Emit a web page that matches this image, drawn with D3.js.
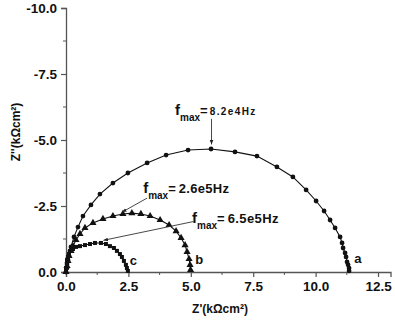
<!DOCTYPE html>
<html><head><meta charset="utf-8">
<script src="https://cdn.jsdelivr.net/npm/d3@7"></script>
<style>body{margin:0;background:#fff}svg{display:block}text{font-family:"Liberation Sans",Arial,sans-serif;font-weight:bold}</style>
</head><body><svg id="c" width="395" height="320"></svg>
<script>
// Series a (circles)
const aX=[0,0.04,0.04,0.08,0.12,0.16,0.20,0.32,0.48,0.68,1.00,1.36,1.88,2.48,3.25,4.01,4.89,5.81,6.77,7.65,8.45,9.09,9.62,10.02,10.34,10.58,10.78,10.98,11.06,11.10,11.18,11.22,11.26,11.30,11.34,11.34];
const aY=[0,-0.15,-0.30,-0.45,-0.61,-0.80,-0.95,-1.33,-1.70,-2.12,-2.54,-2.95,-3.37,-3.75,-4.13,-4.43,-4.62,-4.66,-4.55,-4.39,-3.98,-3.60,-3.11,-2.69,-2.31,-1.97,-1.67,-1.33,-1.10,-0.91,-0.72,-0.57,-0.38,-0.27,-0.15,-0.04];
// Series b (triangles)
const bX=[0,0.04,0.08,0.12,0.20,0.28,0.40,0.56,0.76,1.08,1.48,1.88,2.28,2.64,3.00,3.37,3.77,4.13,4.41,4.61,4.77,4.85,4.93,4.97,4.99];
const bY=[0,-0.23,-0.42,-0.61,-0.80,-0.98,-1.21,-1.44,-1.67,-1.86,-2.01,-2.12,-2.20,-2.23,-2.20,-2.12,-1.97,-1.78,-1.55,-1.29,-1.02,-0.76,-0.49,-0.27,-0.08];
// Series c (squares)
const cX=[0,0,0.04,0.04,0.08,0.12,0.20,0.28,0.40,0.56,0.76,0.96,1.16,1.40,1.60,1.76,1.92,2.04,2.16,2.24,2.32,2.40,2.44,2.48];
const cY=[0,-0.15,-0.30,-0.45,-0.57,-0.68,-0.80,-0.87,-0.95,-0.98,-1.02,-1.06,-1.10,-1.10,-1.06,-0.98,-0.91,-0.80,-0.68,-0.57,-0.42,-0.27,-0.15,-0.04];
const xTicks=[0,2.5,5,7.5,10,12.5];
const yTicks=[0,-2.5,-5,-7.5,-10];
const xLabel="Z'(kΩcm²)";
const yLabel="Z''(kΩcm²)";
const curveLabels=[{t:"a",x:11.55,y:-0.35},{t:"b",x:5.18,y:-0.3},{t:"c",x:2.55,y:-0.26}];
const notes=[
 {val:"8.2e4Hz",tx:4.37,ty:-5.95,fs:10,ls:1.4,ax1:5.83,ay1:-5.8,ax2:5.83,ay2:-4.83},
 {val:"2.6e5Hz",tx:3.09,ty:-3.00,fs:13,ls:0.3,ax1:3.25,ay1:-2.8,ax2:2.25,ay2:-2.27},
 {val:"6.5e5Hz",tx:5.05,ty:-1.86,fs:13,ls:0.4,ax1:5.1,ay1:-1.91,ax2:1.5,ay2:-1.2}
];

const svg=d3.select("#c");
const x=d3.scaleLinear().domain([0,13]).range([66,390.5]);
const y=d3.scaleLinear().domain([0,-10]).range([272,8]);
const axCol="#555";
const fmt=d=>d3.format(".1f")(d).replace("−","-");

// axes
const gx=svg.append("g").attr("transform",`translate(0,${y(0)})`)
 .call(d3.axisBottom(x).tickValues(xTicks).tickFormat(fmt).tickSize(5).tickPadding(4));
const gy=svg.append("g").attr("transform",`translate(${x(0)},0)`)
 .call(d3.axisLeft(y).tickValues(yTicks).tickFormat(fmt).tickSize(5).tickPadding(4));
[gx,gy].forEach(g=>{g.select(".domain").attr("stroke",axCol).attr("stroke-width",1.3);
 g.selectAll(".tick line").attr("stroke",axCol).attr("stroke-width",1.2);
 g.selectAll(".tick text").attr("font-size",13.5).attr("fill","#111").attr("font-weight","bold");});
// minor ticks
svg.append("g").selectAll("line").data(d3.range(1.25,13,2.5)).join("line")
 .attr("x1",d=>x(d)).attr("x2",d=>x(d)).attr("y1",y(0)).attr("y2",y(0)+3).attr("stroke",axCol);
svg.append("g").selectAll("line").data(d3.range(-1.25,-10,-2.5)).join("line")
 .attr("y1",d=>y(d)).attr("y2",d=>y(d)).attr("x1",x(0)).attr("x2",x(0)-3).attr("stroke",axCol);

svg.append("text").attr("x",220).attr("y",313).attr("text-anchor","middle").attr("font-size",12).attr("fill","#111").text(xLabel);
svg.append("text").attr("transform",`translate(20,${132}) rotate(-90)`).attr("text-anchor","middle").attr("font-size",12).attr("fill","#111").text(yLabel);

// series
const line=d3.line().x(d=>x(d[0])).y(d=>y(d[1]));
const A=d3.zip(aX,aY),B=d3.zip(bX,bY),C=d3.zip(cX,cY);
[A,B,C].forEach(s=>svg.append("path").datum(s).attr("d",line).attr("fill","none").attr("stroke","#111").attr("stroke-width",1.1));
svg.append("g").selectAll("circle").data(A).join("circle").attr("cx",d=>x(d[0])).attr("cy",d=>y(d[1])).attr("r",2.4).attr("fill","#111");
const tri=d3.symbol().type(d3.symbolTriangle).size(22);
svg.append("g").selectAll("path").data(B).join("path").attr("transform",d=>`translate(${x(d[0])},${y(d[1])})`).attr("d",tri).attr("fill","#111");
svg.append("g").selectAll("rect").data(C).join("rect").attr("x",d=>x(d[0])-2).attr("y",d=>y(d[1])-2).attr("width",4).attr("height",4).attr("fill","#111");

svg.append("g").selectAll("text").data(curveLabels).join("text").attr("x",d=>x(d.x)).attr("y",d=>y(d.y)).attr("font-size",13).attr("fill","#111").text(d=>d.t);

// annotations
svg.append("defs").append("marker").attr("id","ar").attr("viewBox","0 0 10 10").attr("refX",10).attr("refY",5)
 .attr("markerWidth",5).attr("markerHeight",5).attr("orient","auto").append("path").attr("d","M0,1L10,5L0,9z").attr("fill","#222");
notes.forEach(n=>{
 svg.append("line").attr("x1",x(n.ax1)).attr("y1",y(n.ay1)).attr("x2",x(n.ax2)).attr("y2",y(n.ay2)).attr("stroke","#333").attr("stroke-width",0.9).attr("marker-end","url(#ar)");
 const t=svg.append("text").attr("x",x(n.tx)).attr("y",y(n.ty)).attr("fill","#111");
 t.append("tspan").attr("font-size",15).text("f");
 t.append("tspan").attr("font-size",10).attr("dy",6).text("max");
 t.append("tspan").attr("font-size",13).attr("dy",-6).text("=");
 t.append("tspan").attr("font-size",n.fs).attr("dx",n.fs<12?2:3).attr("letter-spacing",n.ls).text(n.val);
});
</script></body></html>
